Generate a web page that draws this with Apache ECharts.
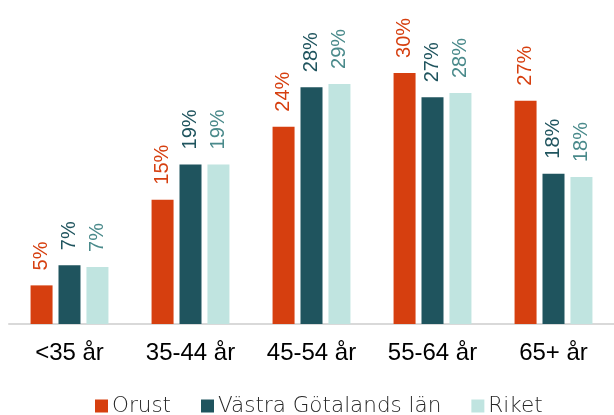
<!DOCTYPE html>
<html>
<head>
<meta charset="utf-8">
<script src="https://cdn.jsdelivr.net/npm/echarts@6/dist/echarts.min.js"></script>
<style>
html, body { margin: 0; padding: 0; background: #fff; }
#chart { width: 614px; height: 415px; }
</style>
</head>
<body>
<div id="chart"></div>
<script>
const categories = ['<35 år', '35-44 år', '45-54 år', '55-64 år', '65+ år']
const orust = [4.6, 14.8, 23.5, 29.9, 26.6]
const vastra = [7.0, 19.0, 28.2, 27.0, 17.9]
const riket = [6.8, 19.0, 28.6, 27.5, 17.5]

const colors = ['#D63F0F', '#1F545E', '#C0E4E0']
const labelColors = ['#D63F0F', '#1F545E', '#4A8A8B']

function barSeries(name, data, i) {
    return {
        name: name,
        type: 'bar',
        data: data,
        barWidth: 22,
        barGap: '27%',
        itemStyle: { color: colors[i] },
        label: {
            show: true,
            position: 'top',
            rotate: 90,
            align: 'left',
            verticalAlign: 'middle',
            distance: 15,
            color: labelColors[i],
            fontFamily: 'Arial, Liberation Sans',
            fontSize: 20,
            formatter: function(p) {
                return Math.round(p.value) + '%'
            }
        }
    }
}

let chart = echarts.init(document.getElementById('chart'))
chart.setOption({
    animation: false,
    grid: { left: 9, width: 610, top: 10, bottom: 91 },
    legend: {
        top: 390,
        left: 90,
        itemWidth: 13,
        itemHeight: 13,
        itemGap: 30,
        icon: 'rect',
        textStyle: { color: '#262626', fontSize: 21.5, fontFamily: 'DejaVu Sans', fontWeight: 200, padding: [0, 0, 0, -1] },
        data: ['Orust', 'Västra Götalands län', 'Riket']
    },
    xAxis: {
        type: 'category',
        data: categories,
        axisLine: { lineStyle: { color: '#d9d9d9', width: 2 } },
        axisTick: { show: false },
        axisLabel: { color: '#000', fontSize: 24, fontFamily: 'Arial, Liberation Sans', margin: 17 }
    },
    yAxis: {
        type: 'value',
        min: 0,
        max: 37.4,
        show: false,
        splitLine: { show: false }
    },
    series: [
        barSeries('Orust', orust, 0),
        barSeries('Västra Götalands län', vastra, 1),
        barSeries('Riket', riket, 2)
    ]
})
</script>
</body>
</html>
